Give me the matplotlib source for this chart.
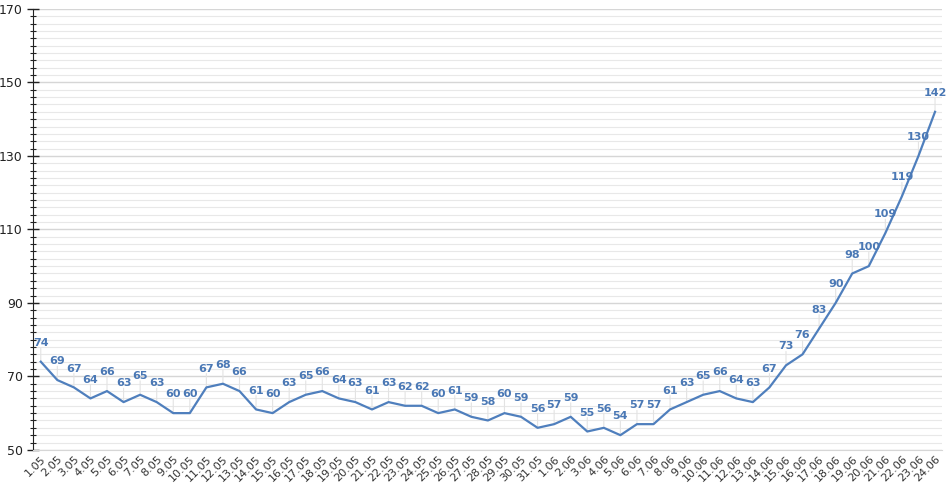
import numpy as np
import matplotlib.pyplot as plt
from matplotlib.ticker import MultipleLocator

# Data
dates = [f"{d}.05" for d in range(1, 32)] + [f"{d}.06" for d in range(1, 25)]
values = [74, 69, 67, 64, 66, 63, 65, 63, 60, 60, 67, 68, 66, 61, 60, 63, 65, 66,
          64, 63, 61, 63, 62, 62, 60, 61, 59, 58, 60, 59, 56,
          57, 59, 55, 56, 54, 57, 57, 61, 63, 65, 66, 64, 63, 67, 73, 76, 83,
          90, 98, 100, 109, 119, 130, 142]
yticks = [50, 70, 90, 110, 130, 150, 170]

line_color = '#4f7fbd'
label_color = '#4a78b5'

fig = plt.figure(figsize=(9.52, 4.96), dpi=100)
ax = fig.add_axes([0.035, 0.093, 0.955, 0.889])

x = np.arange(len(values))
ax.plot(x, values, color=line_color, linewidth=1.6, zorder=3)

# Value labels with thin leader lines
for xi, v in zip(x, values):
    ax.annotate(str(v), (xi, v), xytext=(0, 10), textcoords='offset points',
                ha='center', va='bottom', fontsize=8, fontweight='bold',
                color=label_color, zorder=4)
    ax.annotate('', (xi, v), xytext=(0, 10), textcoords='offset points',
                arrowprops=dict(arrowstyle='-', color='#e3e3e3', lw=0.8,
                                shrinkA=0, shrinkB=0), zorder=2)

ax.set_ylim(50, 170)
ax.set_xlim(-0.45, len(values) - 0.55)
ax.set_yticks(yticks)
ax.yaxis.set_minor_locator(MultipleLocator(2))
ax.grid(which='minor', axis='y', color='#e8e8e8', linewidth=0.8)
ax.grid(which='major', axis='y', color='#d6d6d6', linewidth=1.0)
ax.set_axisbelow(True)

ax.set_xticks(x)
ax.set_xticklabels(dates, rotation=45, ha='right', rotation_mode='anchor',
                   fontsize=8, color='#333333')
ax.tick_params(axis='x', length=0, pad=3)
ax.tick_params(axis='y', which='major', direction='inout', length=8, width=1,
               labelsize=9, colors='#222222')
ax.tick_params(axis='y', which='minor', direction='inout', length=5, width=0.8,
               colors='#222222')

for s in ['top', 'right']:
    ax.spines[s].set_visible(False)
ax.spines['bottom'].set_color('#d6d6d6')
ax.spines['left'].set_color('#222222')

plt.savefig('out.png', dpi=100)
